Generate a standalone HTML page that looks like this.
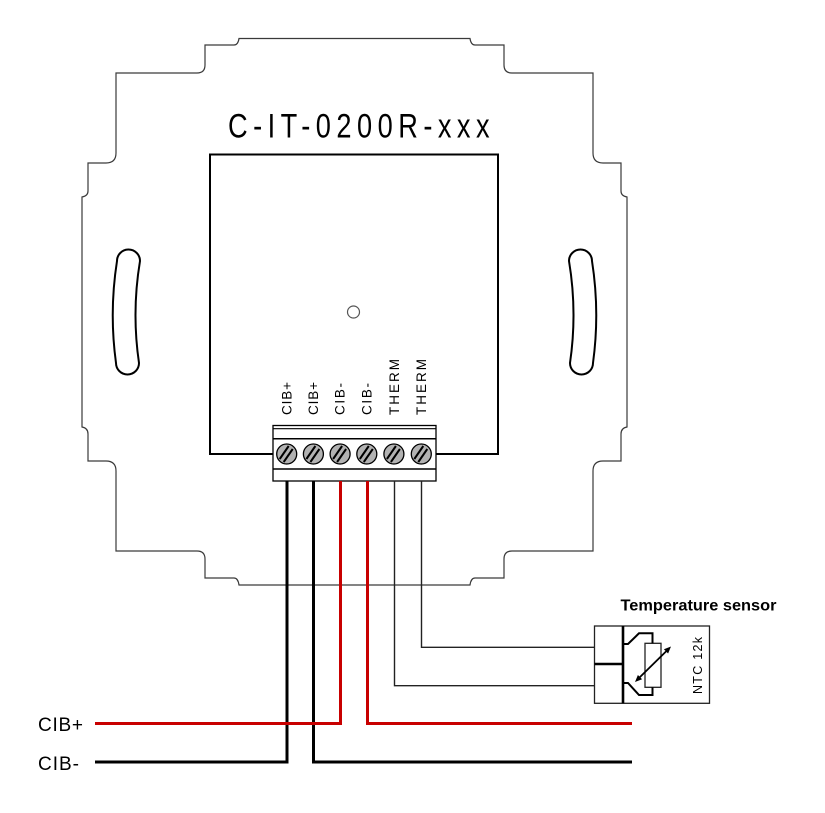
<!DOCTYPE html>
<html>
<head>
<meta charset="utf-8">
<style>
  html,body{margin:0;padding:0;background:#fff;}
  svg{display:block;}
  text{font-family:"Liberation Sans",Arial,sans-serif;}
</style>
</head>
<body>
<svg width="825" height="813" viewBox="0 0 825 813" xmlns="http://www.w3.org/2000/svg">
  <rect x="0" y="0" width="825" height="813" fill="#fff"/>

  <!-- outer frame outline -->
  <path d="M239,38.5 Q238,45 234,45 L205,45 L205,65 Q205,73 197,73 L116,73 L116,153 Q116,163 106,163 L88,163 L88,191 Q88,196 82,197 L82,427 Q88,428 88,434 L88,461 L106,461 Q116,461 116,471 L116,551 L197,551 Q205,551 205,559 L205,578 L234,578 Q238,578 239,585 L470,585 Q471,578 475,578 L504,578 L504,559 Q504,551 512,551 L593,551 L593,471 Q593,461 603,461 L621,461 L621,434 Q621,428 627,427 L627,197 Q621,196 621,191 L621,163 L603,163 Q593,163 593,153 L593,73 L512,73 Q504,73 504,65 L504,45 L475,45 Q471,45 470,38.5 Z"
        fill="none" stroke="#3a3a3a" stroke-width="1.2"/>

  <!-- slots -->
  <path d="M117,261 Q109,312 116,363 A11.5,11.5 0 0 0 139,363 Q131.5,312 140,261 A11.5,11.5 0 0 0 117,261 Z" fill="none" stroke="#000" stroke-width="2"/>
  <path d="M592,261 Q600,312 593,363 A11.5,11.5 0 0 1 570,363 Q577.5,312 569,261 A11.5,11.5 0 0 1 592,261 Z" fill="none" stroke="#000" stroke-width="2"/>

  <!-- title -->
  <text transform="translate(228,137.3) scale(0.8,1)" font-size="34" fill="#000" textLength="327" lengthAdjust="spacing">C-IT-0200R-xxx</text>

  <!-- inner box -->
  <rect x="210" y="154.5" width="288" height="299.5" fill="none" stroke="#000" stroke-width="2"/>

  <!-- center hole -->
  <circle cx="353.5" cy="312" r="6" fill="#fff" stroke="#555" stroke-width="1.2"/>

  <!-- terminal labels -->
  <g font-size="13.5" fill="#000">
    <text transform="translate(291.5,415) rotate(-90)" textLength="33" lengthAdjust="spacing">CIB+</text>
    <text transform="translate(318,415) rotate(-90)" textLength="33" lengthAdjust="spacing">CIB+</text>
    <text transform="translate(344.7,415) rotate(-90)" textLength="32" lengthAdjust="spacing">CIB-</text>
    <text transform="translate(371.4,415) rotate(-90)" textLength="32" lengthAdjust="spacing">CIB-</text>
    <text transform="translate(399,415) rotate(-90)" textLength="56" lengthAdjust="spacing">THERM</text>
    <text transform="translate(426,415) rotate(-90)" textLength="56" lengthAdjust="spacing">THERM</text>
  </g>

  <!-- terminal block -->
  <rect x="273" y="425.5" width="163" height="55.5" fill="#fff" stroke="#000" stroke-width="1.3"/>
  <line x1="273" y1="428.7" x2="436" y2="428.7" stroke="#000" stroke-width="1.2"/>
  <line x1="273" y1="438.7" x2="436" y2="438.7" stroke="#000" stroke-width="1.5"/>
  <line x1="273" y1="469" x2="436" y2="469" stroke="#000" stroke-width="1.5"/>

  <!-- screws -->
  <g stroke="#000">
    <g transform="translate(286.7,454)">
      <circle r="10" fill="#b2b2b2" stroke-width="1.3"/>
      <line x1="-7" y1="5" x2="2" y2="-8" stroke-width="2"/>
      <line x1="-3" y1="8" x2="6" y2="-5" stroke-width="2"/>
    </g>
    <g transform="translate(313.4,454)">
      <circle r="10" fill="#b2b2b2" stroke-width="1.3"/>
      <line x1="-7" y1="5" x2="2" y2="-8" stroke-width="2"/>
      <line x1="-3" y1="8" x2="6" y2="-5" stroke-width="2"/>
    </g>
    <g transform="translate(340.1,454)">
      <circle r="10" fill="#b2b2b2" stroke-width="1.3"/>
      <line x1="-7" y1="5" x2="2" y2="-8" stroke-width="2"/>
      <line x1="-3" y1="8" x2="6" y2="-5" stroke-width="2"/>
    </g>
    <g transform="translate(366.8,454)">
      <circle r="10" fill="#b2b2b2" stroke-width="1.3"/>
      <line x1="-7" y1="5" x2="2" y2="-8" stroke-width="2"/>
      <line x1="-3" y1="8" x2="6" y2="-5" stroke-width="2"/>
    </g>
    <g transform="translate(393.9,454)">
      <circle r="10" fill="#b2b2b2" stroke-width="1.3"/>
      <line x1="-7" y1="5" x2="2" y2="-8" stroke-width="2"/>
      <line x1="-3" y1="8" x2="6" y2="-5" stroke-width="2"/>
    </g>
    <g transform="translate(421.3,454)">
      <circle r="10" fill="#b2b2b2" stroke-width="1.3"/>
      <line x1="-7" y1="5" x2="2" y2="-8" stroke-width="2"/>
      <line x1="-3" y1="8" x2="6" y2="-5" stroke-width="2"/>
    </g>
  </g>

  <!-- thick wires -->
  <polyline points="287,481 287,762 95,762" fill="none" stroke="#000" stroke-width="3"/>
  <polyline points="313.5,481 313.5,762 632,762" fill="none" stroke="#000" stroke-width="3"/>
  <polyline points="340.5,481 340.5,723.5 95,723.5" fill="none" stroke="#c80000" stroke-width="3"/>
  <polyline points="367.5,481 367.5,723.5 632,723.5" fill="none" stroke="#c80000" stroke-width="3"/>

  <!-- therm wires -->
  <polyline points="421.5,481 421.5,647.3 594.5,647.3" fill="none" stroke="#222" stroke-width="1.4"/>
  <polyline points="394.5,481 394.5,685.7 594.5,685.7" fill="none" stroke="#222" stroke-width="1.4"/>

  <!-- wire labels -->
  <text x="38" y="731" font-size="19" fill="#000" textLength="45" lengthAdjust="spacing">CIB+</text>
  <text x="38" y="770" font-size="19" fill="#000" textLength="41" lengthAdjust="spacing">CIB-</text>

  <!-- temperature sensor -->
  <text x="620.5" y="610.7" font-size="16" font-weight="bold" fill="#000" textLength="156" lengthAdjust="spacingAndGlyphs">Temperature sensor</text>
  <rect x="594.5" y="626" width="115" height="77.3" fill="#fff" stroke="#222" stroke-width="1.3"/>
  <line x1="623" y1="626" x2="623" y2="703.3" stroke="#000" stroke-width="2.6"/>
  <line x1="594.5" y1="664" x2="623" y2="664" stroke="#000" stroke-width="2.4"/>
  <rect x="645" y="643.3" width="16" height="44" fill="#fff" stroke="#222" stroke-width="1.3"/>
  <polyline points="623,644 628,644 639,633.3 652.5,633.3 652.5,643.3" fill="none" stroke="#000" stroke-width="2"/>
  <polyline points="623,683 628,683 639,695 652.5,695 652.5,687.3" fill="none" stroke="#000" stroke-width="2"/>
  <line x1="639" y1="678" x2="667" y2="650.5" stroke="#000" stroke-width="1.8"/>
  <polygon points="671,646.5 668.1,653.5 663.9,649.3" fill="#000"/>
  <polygon points="635,682 642.1,679.2 637.9,675" fill="#000"/>
  <text transform="translate(702,694) rotate(-90)" font-size="12.5" fill="#000" textLength="57" lengthAdjust="spacing">NTC 12k</text>
</svg>
</body>
</html>
